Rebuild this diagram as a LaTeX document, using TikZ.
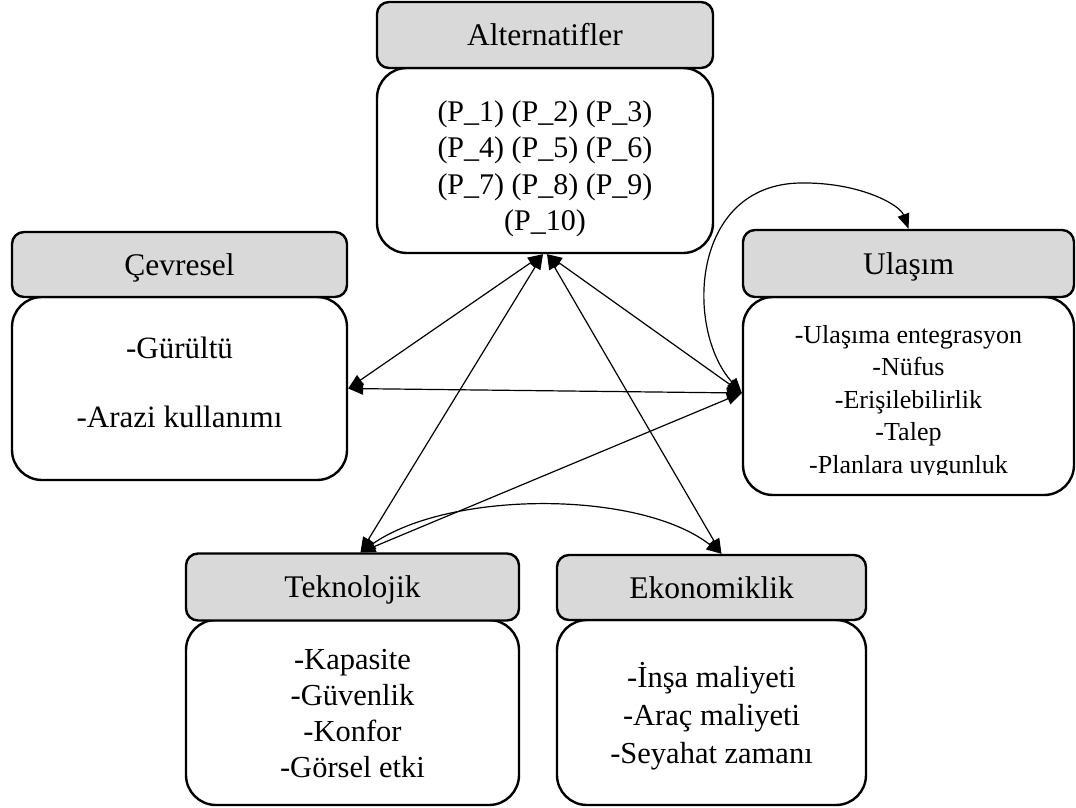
\documentclass[tikz,border=0pt]{standalone}
\usepackage{fontspec}
\setmainfont{Liberation Serif}
\usetikzlibrary{arrows.meta}
\definecolor{hdrgray}{HTML}{D9D9D9}
\tikzset{
  hdr/.style={draw, line width=2.4pt, fill=hdrgray, rounded corners=12pt,
    inner sep=0pt, text height=24pt, text depth=3pt,
    font=\fontsize{31.5}{36}\selectfont},
  bodybox/.style={draw, line width=2.4pt, fill=white, rounded corners=30pt, inner sep=0pt},
  bodytext/.style={align=center, inner sep=0pt},
  link/.style={line width=1.2pt, {Triangle[length=15pt,width=12pt]}-{Triangle[length=15pt,width=12pt]}},
}
\begin{document}
\begin{tikzpicture}[x=1pt,y=-1pt]
\useasboundingbox (0,0) rectangle (1076,808);

% category boxes: body first, title bar on top
\node[bodybox, minimum width=336pt, minimum height=185pt] (altb) at (545,160.5) {};
\node[hdr, minimum width=336pt, minimum height=66pt] (alth) at (545,35) {Alternatifler};
\node[bodytext, font=\fontsize{30}{36.5}\selectfont] (altt) at (545,169)
  {(P\_1) (P\_2) (P\_3)\\(P\_4) (P\_5) (P\_6)\\(P\_7) (P\_8) (P\_9)\\(P\_10)};

\node[bodybox, minimum width=335pt, minimum height=183pt] (cevb) at (179.5,388.5) {};
\node[hdr, minimum width=335pt, minimum height=65pt] (cevh) at (179.5,264.5) {Çevresel};
\node[bodytext, font=\fontsize{31}{36}\selectfont] (cevt) at (179.5,382)
  {-Gürültü\\[33pt]-Arazi kullanımı};

\node[bodybox, minimum width=331pt, minimum height=198pt] (ulab) at (908.5,396) {};
\node[hdr, minimum width=331pt, minimum height=67pt] (ulah) at (908.5,263.5) {Ulaşım};
\begin{scope}
  \clip (743,300) rectangle (1074,474);
  \node[bodytext, font=\fontsize{26}{32.5}\selectfont] (ulat) at (908.5,402)
    {-Ulaşıma entegrasyon\\-Nüfus\\-Erişilebilirlik\\-Talep\\-Planlara uygunluk};
\end{scope}

\node[bodybox, minimum width=333pt, minimum height=185pt] (tekb) at (352.5,712.5) {};
\node[hdr, minimum width=333pt, minimum height=67pt] (tekh) at (352.5,587) {Teknolojik};
\node[bodytext, font=\fontsize{30.5}{36}\selectfont] (tekt) at (352.5,714)
  {-Kapasite\\-Güvenlik\\-Konfor\\-Görsel etki};

\node[bodybox, minimum width=309pt, minimum height=185pt] (ekob) at (711.5,712.5) {};
\node[hdr, minimum width=309pt, minimum height=65pt] (ekoh) at (711.5,587.5) {Ekonomiklik};
\node[bodytext, font=\fontsize{30.5}{38}\selectfont] (ekot) at (711.5,716)
  {-İnşa maliyeti\\-Araç maliyeti\\-Seyahat zamanı};

% connector end points
\coordinate (pA1) at ([xshift=-2pt]altb.south);
\coordinate (pA2) at ([xshift=2pt]altb.south);
\coordinate (pC) at (cevb.east);
\coordinate (pU) at ([yshift=3pt]ulab.west);
\coordinate (pT) at ([xshift=8pt]tekh.north);
\coordinate (pE) at ([xshift=10pt]ekoh.north);
\coordinate (pUh) at (ulah.north);

% connectors
\draw[link] (pA1) -- (pC);
\draw[link] (pA1) -- (pT);
\draw[link] (pA2) -- (pU);
\draw[link] (pA2) -- (pE);
\draw[link] (pC) -- (pU);
\draw[link] (pT) -- (pU);
\draw[link] (pT) .. controls (450,490) and (640,490) .. (pE);
\draw[link] (pU) .. controls (685,330) and (690,185) .. (800,183)
  .. controls (860,182) and (900,205) .. (pUh);
\end{tikzpicture}
\end{document}
